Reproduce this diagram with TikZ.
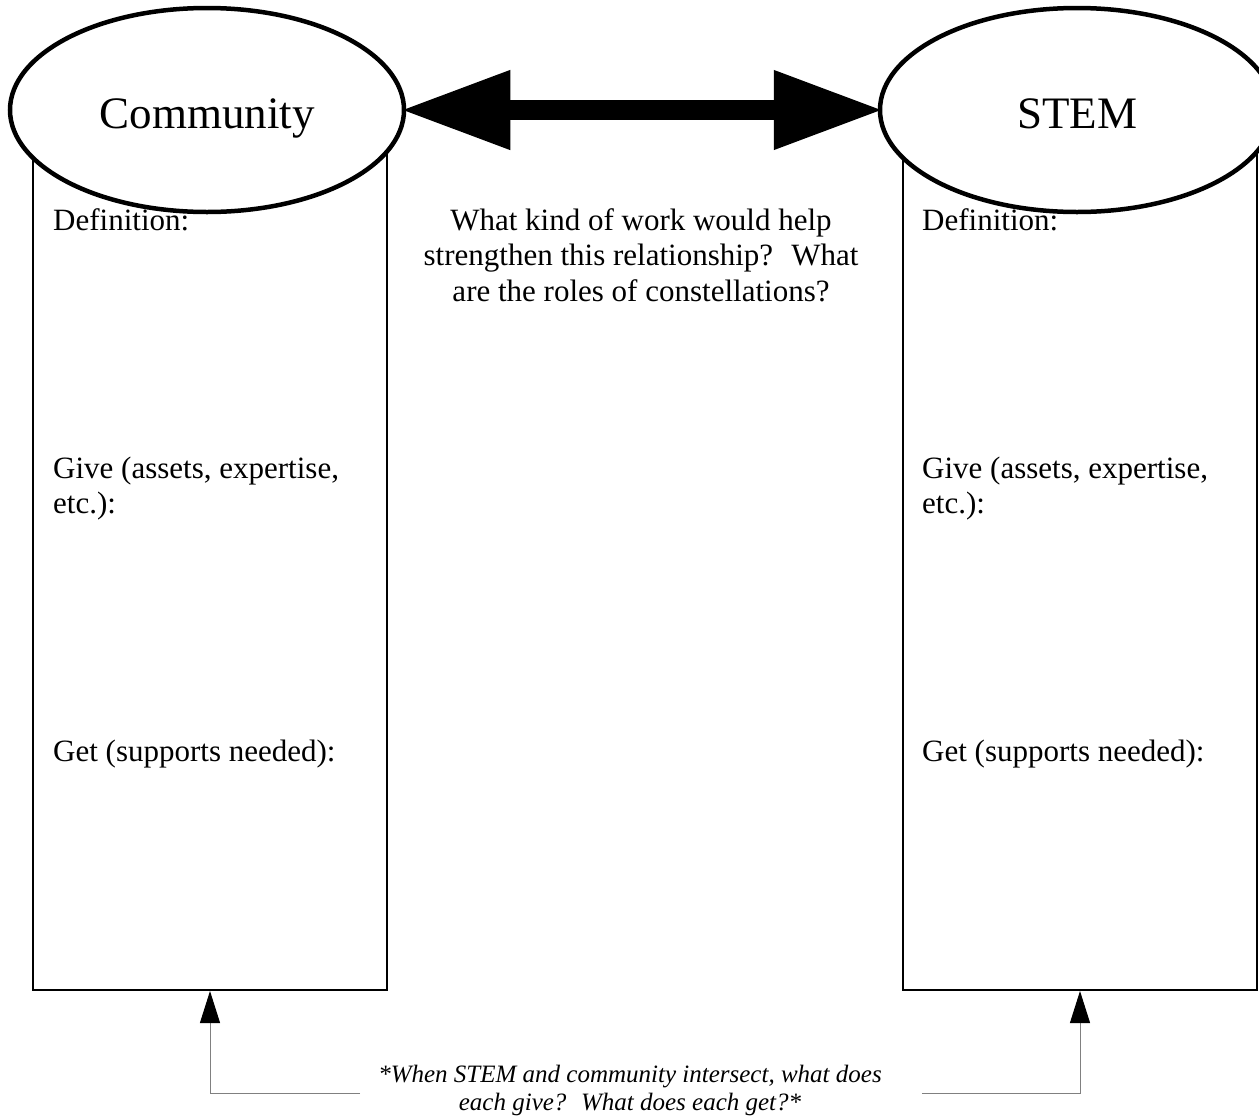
\documentclass[tikz,border=0pt]{standalone}
\usepackage{fontspec}
\setmainfont{Liberation Serif}
\usetikzlibrary{shapes.geometric,arrows.meta,positioning}

\tikzset{
    topic/.style={ellipse, draw, line width=4.5pt, fill=white, inner sep=0pt,
        minimum width=394pt, minimum height=204pt, text height=40pt, text depth=4pt,
        font=\fontsize{45}{50}\selectfont},
    column/.style={draw, line width=2pt, minimum width=354pt, minimum height=840pt, inner sep=0pt},
    field/.style={anchor=base west, inner sep=0pt, align=left, font=\fontsize{31}{35}\selectfont},
    feed/.style={gray, line width=1pt, -{Triangle[length=32pt, width=20pt, black]}}
}

\begin{document}
\begin{tikzpicture}[x=1pt, y=-1pt]
    \useasboundingbox (0,0) rectangle (1259,1117);

    % columns under the two headings
    \node[column] (commbox) at (210,570) {};
    \node[column] (stembox) at (1080,570) {};

    \node[topic] (comm) at (207,110) {Community};
    \node[topic] (stem) at (1077,110) {STEM};

    \draw[line width=20pt, shorten <=-6pt, shorten >=-6pt,
        {Triangle[length=110pt, width=74pt]}-{Triangle[length=110pt, width=74pt]}]
        (comm.east) -- (stem.west);

    \node[align=center, anchor=north, inner sep=0pt, font=\fontsize{31}{35.5}\selectfont] (ask) at (641,208)
        {What kind of work would help\\ strengthen this relationship?~ What\\ are the roles of constellations?};

    % fields in each column
    \foreach \x/\s in {53/c, 922/s} {
        \node[field] (def\s) at (\x,230) {Definition:};
        \node[field] (give\s) at (\x,513) {Give (assets, expertise,\\ etc.):};
        \node[field] (get\s) at (\x,761) {Get (supports needed):};
    }

    \node[align=center, inner sep=0pt, font=\itshape\fontsize{25}{28}\selectfont] (note) at (630,1090)
        {*When STEM and community intersect, what does\\ each give?~ What does each get?*};

    \draw[feed] ([xshift=-18pt, yshift=-3pt]note.west) -| (commbox.south);
    \draw[feed] ([xshift=40pt, yshift=-3pt]note.east) -| (stembox.south);
\end{tikzpicture}
\end{document}
